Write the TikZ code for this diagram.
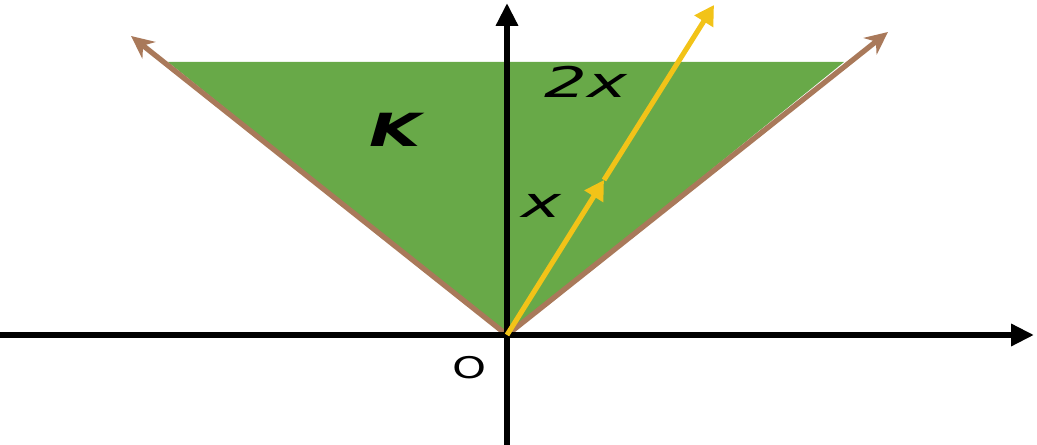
\documentclass[tikz,border=0pt]{standalone}
\usepackage{fontspec}
\setmainfont{DejaVu Sans}
\newfontfamily\widefont[FakeStretch=1.6]{DejaVu Sans}
\newfontfamily\boldwidefont[FakeStretch=1.45]{DejaVu Sans}
\newfontfamily\roundfont[FakeStretch=1.45]{DejaVu Sans}
\usepackage{tikz}
\usetikzlibrary{arrows.meta}
\definecolor{ConeGreen}{HTML}{68A948}
\definecolor{RayBrown}{HTML}{A9795A}
\definecolor{VecGold}{HTML}{F2C318}
\tikzset{
  % Coordinate axis
  axis/.style={
    -{Triangle[length=13pt,width=12pt]},
    line width=3.5pt, color=black
  },
  % Boundary ray of the cone
  ray/.style={
    -{Stealth[length=13pt,width=12pt]},
    line width=3.0pt, color=RayBrown
  },
  % Vector
  vec/.style={
    -{Triangle[length=11pt,width=12pt]},
    line width=2.9pt, color=VecGold
  },
  % Label
  lbl/.style={font=\widefont\fontsize{24}{24}\selectfont\itshape, color=black}
}
\begin{document}
\begin{tikzpicture}[x=0.02cm, y=0.02cm]
  \useasboundingbox (-507,-110) rectangle (530,335);
  \coordinate (O)  at (0,0);
  \coordinate (tl) at (-339,273);
  \coordinate (tr) at (337,273);
  \coordinate (rl) at (-376,299);
  \coordinate (rr) at (381,303);
  \coordinate (ym) at (97,155);
  \coordinate (ye) at (207,330);
  \coordinate (xl) at (-507,0);
  \coordinate (xr) at (527,0);
  \coordinate (yb) at (0,-110);
  \coordinate (yt) at (0,332);
  % cone
  \fill[ConeGreen] (O) -- (tl) -- (tr) -- cycle;
  \draw[ray] (O) -- (rl);
  \draw[ray] (O) -- (rr);
  % axes
  \draw[axis] (xl) -- (xr);
  \draw[axis] (yb) -- (yt);
  % vectors x and 2x
  \draw[vec] (O) -- (ym);
  \draw[vec] (ym) -- (ye);
  % labels
  \node[lbl, font=\boldwidefont\fontsize{26}{26}\selectfont\bfseries\itshape] (K) at (-112,205) {K};
  \node[lbl] (lx2) at (79,253) {2x};
  \node[lbl] (lx) at (34,129) {x};
  \node[lbl, font=\roundfont\fontsize{17}{17}\selectfont] (lO) at (-37,-33) {O};
\end{tikzpicture}
\end{document}
